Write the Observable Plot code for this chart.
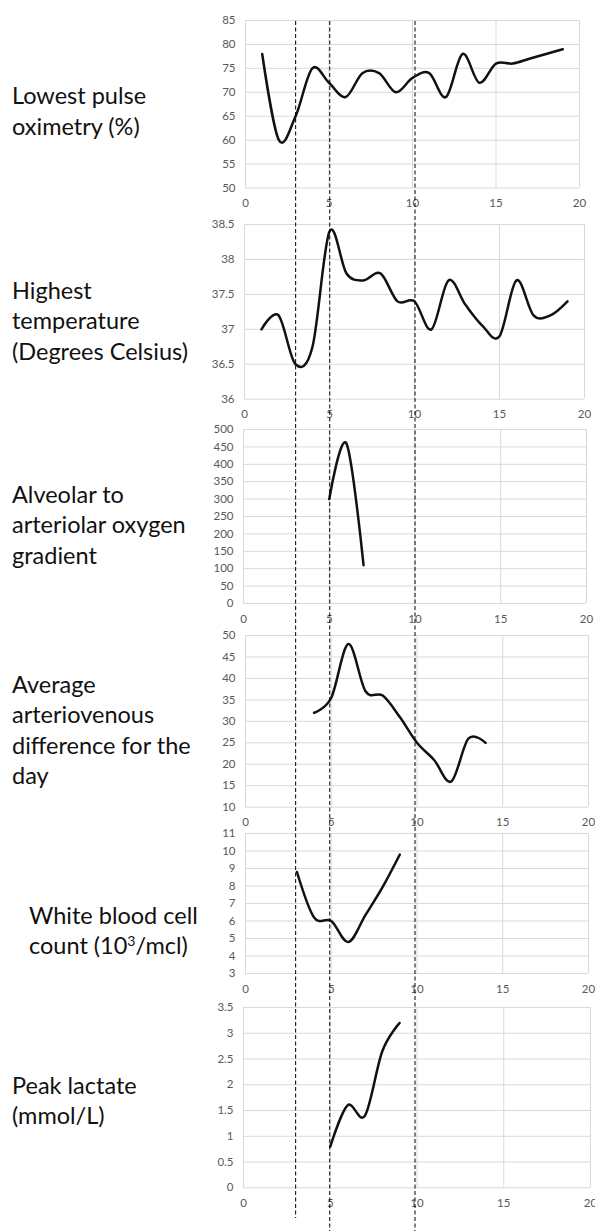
<!DOCTYPE html>
<html><head><meta charset="utf-8">
<script src="https://cdn.jsdelivr.net/npm/d3@7"></script>
<script src="https://cdn.jsdelivr.net/npm/@observablehq/plot@0.6"></script>
<style>
html,body{margin:0;padding:0;background:#fff;}
#fig{position:relative;width:595px;height:1231px;overflow:hidden;font-family:Lato,sans-serif;}
.lab{position:absolute;font-size:23.5px;color:#111;white-space:nowrap;line-height:30.5px;}
.lab sup{font-size:0.6em;line-height:0;vertical-align:0.6em;}
</style></head><body><div id="fig"></div>
<script>
// ---- data ----
const xTicks = [0, 5, 10, 15, 20];
const markerDays = [3, 5, 10];

const pulseDays   = [1, 2, 3, 4, 5, 6, 7, 8, 9, 10, 11, 12, 13, 14, 15, 16, 17, 18, 19];
const pulseValues = [78, 60, 65, 75, 72, 69, 74, 74, 70, 73, 74, 69, 78, 72, 76, 76, 77, 78, 79];
const pulseTicks  = [50, 55, 60, 65, 70, 75, 80, 85];

const tempDays   = [1, 2, 3, 4, 5, 6, 7, 8, 9, 10, 11, 12, 13, 14, 15, 16, 17, 18, 19];
const tempValues = [37.0, 37.2, 36.5, 36.75, 38.4, 37.8, 37.7, 37.8, 37.4, 37.4, 37.0, 37.7, 37.35, 37.05, 36.9, 37.7, 37.2, 37.2, 37.4];
const tempTicks  = [36, 36.5, 37, 37.5, 38, 38.5];

const aaDays   = [5, 6, 7];
const aaValues = [300, 460, 110];
const aaTicks  = [0, 50, 100, 150, 200, 250, 300, 350, 400, 450, 500];

const avDays   = [4, 5, 6, 7, 8, 9, 10, 11, 12, 13, 14];
const avValues = [32, 35.5, 48, 37, 36, 31, 25, 21, 16, 26, 25];
const avTicks  = [10, 15, 20, 25, 30, 35, 40, 45, 50];

const wbcDays   = [3, 4, 5, 6, 7, 8, 9];
const wbcValues = [8.8, 6.2, 6.0, 4.8, 6.35, 7.95, 9.8];
const wbcTicks  = [3, 4, 5, 6, 7, 8, 9, 10, 11];

const lacDays   = [5, 6, 7, 8, 9];
const lacValues = [0.8, 1.6, 1.4, 2.65, 3.2];
const lacTicks  = [0, 0.5, 1, 1.5, 2, 2.5, 3, 3.5];

const labelTexts = [
  ["Lowest pulse", "oximetry (%)"],
  ["Highest", "temperature", "(Degrees Celsius)"],
  ["Alveolar to", "arteriolar oxygen", "gradient"],
  ["Average", "arteriovenous", "difference for the", "day"],
  ["White blood cell", "count (10<sup>3</sup>/mcl)"],
  ["Peak lactate", "(mmol/L)"]
];

// ---- layout ----
const fig = document.getElementById("fig");
const panels = [
  {days: pulseDays, values: pulseValues, ticks: pulseTicks, top: 19.5, bottom: 187, left: 245, right: 579, labTop: 80,   labLeft: 12},
  {days: tempDays,  values: tempValues,  ticks: tempTicks,  top: 224.3, bottom: 399, left: 244, right: 584, labTop: 274.5, labLeft: 12},
  {days: aaDays,    values: aaValues,    ticks: aaTicks,    top: 429.3, bottom: 603.3, left: 243, right: 586, labTop: 478.5, labLeft: 12},
  {days: avDays,    values: avValues,    ticks: avTicks,    top: 635, bottom: 806.7, left: 245, right: 588, labTop: 668.5, labLeft: 12},
  {days: wbcDays,   values: wbcValues,   ticks: wbcTicks,   top: 832.7, bottom: 972.7, left: 245, right: 588, labTop: 899.5, labLeft: 29},
  {days: lacDays,   values: lacValues,   ticks: lacTicks,   top: 1007, bottom: 1187.3, left: 243, right: 590, labTop: 1069.5, labLeft: 12}
];

panels.forEach((cfg, k) => {
  const data = cfg.days.map((d, i) => ({day: d, value: cfg.values[i]}));
  const mt = 8, mb = 26;
  const plot = Plot.plot({
    width: 595,
    height: cfg.bottom - cfg.top + mt + mb,
    marginLeft: cfg.left,
    marginRight: 595 - cfg.right,
    marginTop: mt,
    marginBottom: mb,
    style: {background: "transparent", fontFamily: "Lato, sans-serif", fontSize: "11.5px", color: "#595959", overflow: "visible"},
    x: {domain: [0, 20], label: null},
    y: {domain: [cfg.ticks[0], cfg.ticks[cfg.ticks.length - 1]], label: null},
    marks: [
      Plot.gridX(xTicks, {stroke: "#d9d9d9", strokeOpacity: 1, strokeWidth: 1}),
      Plot.gridY(cfg.ticks, {stroke: "#d9d9d9", strokeOpacity: 1, strokeWidth: 1}),
      Plot.axisX(xTicks, {tickSize: 0, tickPadding: 11, tickFormat: d => String(d)}),
      Plot.axisY(cfg.ticks, {tickSize: 0, tickPadding: 10, tickFormat: d => String(d)}),
      Plot.line(data, {x: "day", y: "value", curve: "cardinal", stroke: "#111", strokeWidth: 2.5})
    ]
  });
  plot.style.position = "absolute";
  plot.style.left = "0px";
  plot.style.top = (cfg.top - mt) + "px";
  fig.appendChild(plot);

  const lab = document.createElement("div");
  lab.className = "lab";
  lab.style.left = cfg.labLeft + "px";
  lab.style.top = cfg.labTop + "px";
  lab.innerHTML = labelTexts[k].join("<br>");
  fig.appendChild(lab);
});

// dashed vertical day markers across all panels
const overlay = Plot.plot({
  width: 595,
  height: 1231,
  marginLeft: 244,
  marginRight: 10,
  marginTop: 21,
  marginBottom: 0,
  style: {background: "transparent"},
  x: {domain: [0, 20], axis: null},
  marks: [
    Plot.ruleX(markerDays.slice(0, 1), {stroke: "#000", strokeWidth: 1, strokeDasharray: "4,2.5", insetBottom: 13}),
    Plot.ruleX(markerDays.slice(1), {stroke: "#000", strokeWidth: 1, strokeDasharray: "4,2.5"})
  ]
});
overlay.style.position = "absolute";
overlay.style.left = "0px";
overlay.style.top = "0px";
overlay.style.pointerEvents = "none";
fig.appendChild(overlay);
</script>
</body></html>
